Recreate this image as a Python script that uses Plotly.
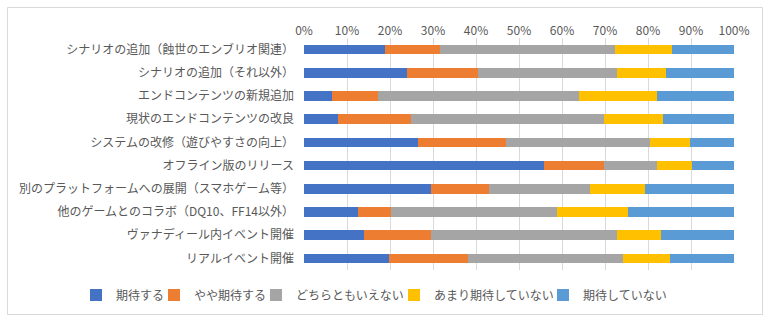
import plotly.graph_objects as go

categories = [
    "シナリオの追加（蝕世のエンブリオ関連）",
    "シナリオの追加（それ以外）",
    "エンドコンテンツの新規追加",
    "現状のエンドコンテンツの改良",
    "システムの改修（遊びやすさの向上）",
    "オフライン版のリリース",
    "別のプラットフォームへの展開（スマホゲーム等）",
    "他のゲームとのコラボ（DQ10、FF14以外）",
    "ヴァナディール内イベント開催",
    "リアルイベント開催",
]

series_names = ["期待する", "やや期待する", "どちらともいえない", "あまり期待していない", "期待していない"]

kitai_suru =      [18.9, 24.0,  6.5,  7.9, 26.5, 55.9, 29.6, 12.6, 14.0, 19.8]
yaya_kitai =      [12.8, 16.5, 10.6, 17.0, 20.5, 13.9, 13.5,  7.6, 15.6, 18.4]
dochira =         [40.7, 32.3, 46.9, 44.9, 33.5, 12.4, 23.5, 38.7, 43.2, 36.0]
amari =           [13.2, 11.4, 18.2, 13.8,  9.3,  8.1, 12.8, 16.5, 10.3, 11.0]
kitai_shinai =    [14.4, 15.8, 17.8, 16.4, 10.2,  9.7, 20.6, 24.6, 16.9, 14.8]

series_values = [kitai_suru, yaya_kitai, dochira, amari, kitai_shinai]
colors = ["#4472C4", "#ED7D31", "#A5A5A5", "#FFC000", "#5B9BD5"]

tick_vals = [i / 10 for i in range(11)]
tick_text = [f"{i * 10}%" for i in range(11)]

FONT = "Noto Sans CJK JP"
TEXT = "#595959"

W, H = 768, 321
L, R, T, B = 304, 34, 38, 51
pw, ph = W - L - R, H - T - B

def px_x(p):
    return (p - L) / pw

def px_y(p):
    return 1 - (p - T) / ph

# legend text start positions (px) in the reference
legend_text_x = [116, 194, 296, 434, 583]

fig = go.Figure()
legend_layouts = {}
for i, (name, vals, col) in enumerate(zip(series_names, series_values, colors)):
    key = "legend" if i == 0 else f"legend{i + 1}"
    fig.add_trace(go.Bar(
        y=categories,
        x=[v / 100 for v in vals],
        name=name,
        orientation="h",
        marker=dict(color=col, line=dict(width=0)),
        legend=key,
    ))
    legend_layouts[key] = dict(
        orientation="h",
        x=px_x(legend_text_x[i] - 40), xanchor="left",
        y=px_y(295), yanchor="middle",
        font=dict(size=12, color=TEXT, family=FONT),
        itemwidth=30,
        bgcolor="rgba(0,0,0,0)",
        borderwidth=0,
    )

fig.update_layout(
    width=W, height=H,
    barmode="stack",
    bargap=0.58,
    margin=dict(l=L, r=R, t=T, b=B),
    paper_bgcolor="white",
    plot_bgcolor="white",
    font=dict(family=FONT, size=12, color=TEXT),
    xaxis=dict(
        side="top",
        range=[0, 1],
        tickvals=tick_vals,
        ticktext=tick_text,
        showgrid=True,
        gridcolor="#D9D9D9",
        gridwidth=1,
        zeroline=False,
        showline=False,
        ticks="",
        tickfont=dict(size=12, color=TEXT),
    ),
    yaxis=dict(
        autorange="reversed",
        showgrid=False,
        zeroline=False,
        showline=False,
        ticks="",
        ticklabelstandoff=9,
        tickfont=dict(size=12, color=TEXT),
    ),
    showlegend=True,
    shapes=[dict(
        type="rect", xref="paper", yref="paper",
        x0=px_x(7.5), x1=px_x(762.5), y0=px_y(7.5), y1=px_y(314.5),
        line=dict(color="#D9D9D9", width=1), fillcolor="rgba(0,0,0,0)", layer="below",
    )],
    **legend_layouts,
)

fig.write_html("out.html")
